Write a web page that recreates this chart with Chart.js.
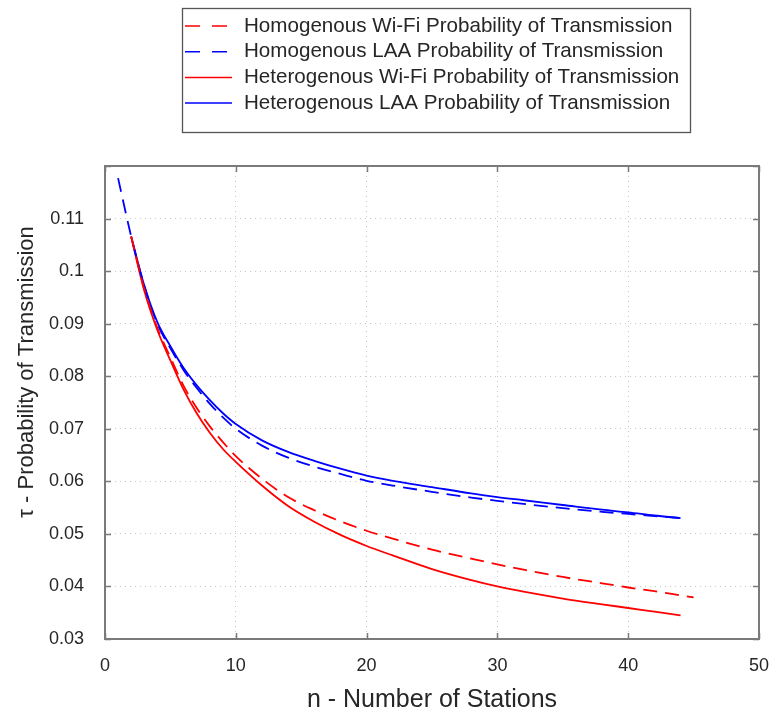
<!DOCTYPE html>
<html>
<head>
<meta charset="utf-8">
<script src="https://cdn.jsdelivr.net/npm/chart.js@4/dist/chart.umd.min.js"></script>
<style>
  html, body { margin: 0; padding: 0; background: #fff; }
</style>
</head>
<body>
<canvas id="myChart" width="780" height="715"></canvas>
<script>
// n - number of stations, shared by all four curves (null = curve not drawn there)
const stations = [1, 2, 3, 4, 5, 6, 7, 8, 9, 10, 12, 14, 16, 18, 20, 22, 25, 28, 30, 32, 35, 38, 40, 42, 44, 45];

const homWifi = [null, 0.1066, 0.0966, 0.0892, 0.0836, 0.0782, 0.0740, 0.0705, 0.0675, 0.0648, 0.0605, 0.0570, 0.0545, 0.0524, 0.0506, 0.0491, 0.0470, 0.0453, 0.0442, 0.0432, 0.0418, 0.0406, 0.0398, 0.0391, 0.0383, 0.0379];
const homLaa = [0.1177, 0.1066, 0.0972, 0.0900, 0.0853, 0.0812, 0.0778, 0.0748, 0.0722, 0.0700, 0.0668, 0.0645, 0.0628, 0.0614, 0.0601, 0.0592, 0.0580, 0.0569, 0.0563, 0.0557, 0.0549, 0.0542, 0.0538, 0.0534, 0.0530, null];
const hetWifi = [null, 0.1066, 0.0963, 0.0888, 0.0830, 0.0775, 0.0730, 0.0693, 0.0662, 0.0637, 0.0592, 0.0553, 0.0523, 0.0498, 0.0477, 0.0459, 0.0433, 0.0412, 0.0400, 0.0390, 0.0377, 0.0366, 0.0359, 0.0352, 0.0345, null];
const hetLaa = [null, 0.1066, 0.0973, 0.0903, 0.0857, 0.0816, 0.0783, 0.0755, 0.0730, 0.0709, 0.0678, 0.0656, 0.0639, 0.0624, 0.0611, 0.0601, 0.0589, 0.0577, 0.0570, 0.0564, 0.0555, 0.0546, 0.0541, 0.0535, 0.0530, null];

const labels = [
  "Homogenous Wi-Fi Probability of Transmission",
  "Homogenous LAA Probability of Transmission",
  "Heterogenous Wi-Fi Probability of Transmission",
  "Heterogenous LAA Probability of Transmission",
];

const toPoints = (vals) =>
  stations.map((n, i) => ({ x: n, y: vals[i] })).filter((p) => p.y !== null);

const FONT = "'Liberation Sans', Arial, sans-serif";

// box, inward ticks and the stacked legend (MATLAB style)
const frame = {
  id: "frame",
  afterDraw(chart) {
    const { ctx, chartArea: a, scales } = chart;
    ctx.save();
    ctx.strokeStyle = "#7a7a7a";
    ctx.lineWidth = 1.5;
    ctx.setLineDash([]);
    scales.x.ticks.forEach((t) => {
      const px = Math.round(scales.x.getPixelForValue(t.value)) + 0.5;
      ctx.beginPath();
      ctx.moveTo(px, a.bottom); ctx.lineTo(px, a.bottom - 6);
      ctx.moveTo(px, a.top); ctx.lineTo(px, a.top + 6);
      ctx.stroke();
    });
    scales.y.ticks.forEach((t) => {
      const py = Math.round(scales.y.getPixelForValue(t.value)) + 0.5;
      ctx.beginPath();
      ctx.moveTo(a.left, py); ctx.lineTo(a.left + 6, py);
      ctx.moveTo(a.right, py); ctx.lineTo(a.right - 6, py);
      ctx.stroke();
    });
    ctx.lineWidth = 2;
    ctx.strokeRect(a.left, a.top, a.right - a.left, a.bottom - a.top);

    // legend
    ctx.fillStyle = "#fff";
    ctx.fillRect(182, 8, 508, 124);
    ctx.strokeStyle = "#555";
    ctx.lineWidth = 1.3;
    ctx.strokeRect(182.5, 8.5, 508, 124);
    ctx.font = "20.6px " + FONT;
    ctx.textBaseline = "middle";
    chart.data.datasets.forEach((ds, i) => {
      const y = 26 + i * 25.7;
      ctx.strokeStyle = ds.borderColor;
      ctx.lineWidth = 1.5;
      ctx.setLineDash(ds.borderDash && ds.borderDash.length ? [15, 12] : []);
      ctx.beginPath();
      ctx.moveTo(185, y); ctx.lineTo(232, y);
      ctx.stroke();
      ctx.fillStyle = "#262626";
      ctx.fillText(ds.label, 244, y);
    });
    ctx.restore();
  },
};

const ctx = document.getElementById("myChart").getContext("2d");
const myChart = new Chart(ctx, {
  type: "line",
  data: {
    datasets: [
      { label: labels[0], data: toPoints(homWifi), borderColor: "#ff0000", borderDash: [14, 8] },
      { label: labels[1], data: toPoints(homLaa), borderColor: "#0000ff", borderDash: [14, 8] },
      { label: labels[2], data: toPoints(hetWifi), borderColor: "#ff0000", borderDash: [] },
      { label: labels[3], data: toPoints(hetLaa), borderColor: "#0000ff", borderDash: [] },
    ],
  },
  options: {
    responsive: false,
    animation: false,
    layout: { padding: { top: 166, right: 21, left: 0, bottom: 0 } },
    elements: {
      point: { radius: 0 },
      line: { borderWidth: 1.8, cubicInterpolationMode: "monotone", fill: false },
    },
    plugins: {
      legend: { display: false },
      tooltip: { enabled: false },
    },
    scales: {
      x: {
        type: "linear",
        min: 0,
        max: 50,
        afterFit: (s) => {
          s.height = 76;
          s.paddingLeft = 0;
          s.paddingRight = 0;
        },
        ticks: { stepSize: 10, padding: 16, color: "#262626", font: { family: FONT, size: 18 } },
        grid: { color: "#c8c8c8", drawTicks: false, lineWidth: 1 },
        border: { display: false, dash: [1, 4] },
        title: {
          display: true,
          text: "n - Number of Stations",
          color: "#262626",
          font: { family: FONT, size: 25 },
          padding: { top: 0, bottom: 0 },
        },
      },
      y: {
        min: 0.03,
        max: 0.12,
        afterFit: (s) => { s.width = 105; },
        ticks: {
          stepSize: 0.01,
          padding: 21,
          color: "#262626",
          font: { family: FONT, size: 18 },
          callback: (v) => (v > 0.115 ? "" : String(parseFloat(v.toFixed(2)))),
        },
        grid: { color: "#c8c8c8", drawTicks: false, lineWidth: 1 },
        border: { display: false, dash: [1, 4] },
        title: {
          display: true,
          text: "          \u03c4 - Probability of Transmission",
          color: "#262626",
          font: { family: FONT, size: 22 },
          padding: { top: 14, bottom: 0 },
        },
      },
    },
  },
  plugins: [frame],
});
</script>
</body>
</html>
